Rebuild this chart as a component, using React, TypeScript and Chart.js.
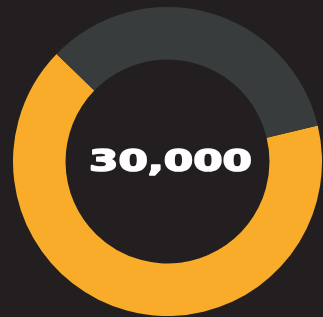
import React, { useEffect, useRef } from "react";
import { Chart, registerables } from "chart.js";

Chart.register(...registerables);

const categories: string[] = ["Raised", "Remaining"];
const values: number[] = [66, 34];
const centerLabel = "30,000";

const BG = "#231f20";
const COLORS = ["#f8ac29", "#383c3d"];

const centerTextPlugin = {
  id: "centerText",
  afterDraw(chart: any) {
    const { ctx } = chart;
    const meta = chart.getDatasetMeta(0);
    const arc = meta.data[0];
    if (!arc) return;
    const cx = arc.x + 3;
    const cy = arc.y;
    ctx.save();
    ctx.font = "bold 31px 'DejaVu Sans'";
    ctx.fillStyle = "#ffffff";
    ctx.strokeStyle = "#ffffff";
    ctx.lineJoin = "round";
    ctx.textAlign = "center";
    ctx.textBaseline = "alphabetic";
    const w = ctx.measureText(centerLabel).width;
    const sx = 163 / w;
    ctx.translate(cx, cy + 9.5);
    ctx.scale(sx, 1);
    ctx.lineWidth = 1.6;
    ctx.fillText(centerLabel, 0, 0);
    ctx.strokeText(centerLabel, 0, 0);
    ctx.restore();
  },
};

export default function App() {
  const ref = useRef<HTMLCanvasElement | null>(null);
  useEffect(() => {
    if (!ref.current) return;
    const chart = new Chart(ref.current, {
      type: "doughnut",
      data: {
        labels: categories,
        datasets: [
          {
            data: values,
            backgroundColor: COLORS,
            borderWidth: 0,
            hoverOffset: 0,
          },
        ],
      },
      options: {
        animation: false,
        responsive: false,
        maintainAspectRatio: false,
        rotation: 76.5,
        cutout: "66%",
        layout: { padding: 0 },
        plugins: {
          legend: { display: false },
          tooltip: { enabled: false },
        },
        events: [],
      },
      plugins: [centerTextPlugin],
    });
    return () => chart.destroy();
  }, []);
  return (
    <div style={{ position: "fixed", left: 0, top: 0, width: 323, height: 317, background: BG, overflow: "hidden" }}>
      <div style={{ position: "absolute", left: 13, top: 7, width: 309, height: 309 }}>
        <canvas ref={ref} width={309} height={309} style={{ display: "block", width: 309, height: 309 }} />
      </div>
    </div>
  );
}
